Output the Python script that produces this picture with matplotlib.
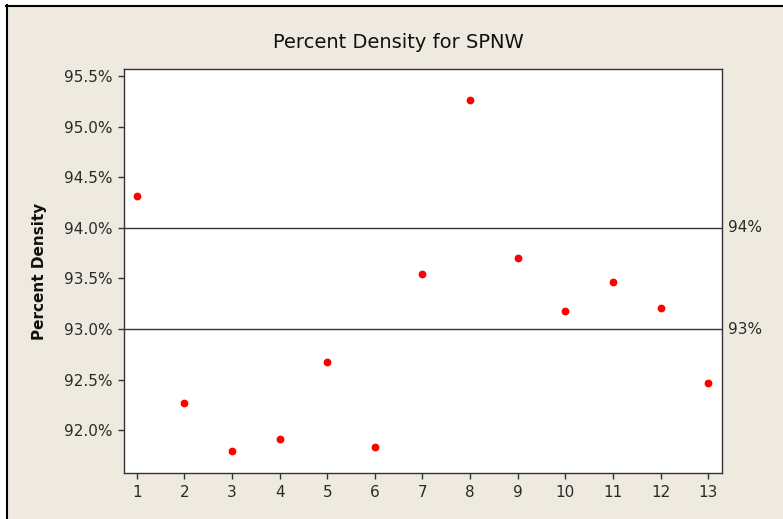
import matplotlib.pyplot as plt
from matplotlib.lines import Line2D
from matplotlib.patches import Rectangle
import matplotlib.transforms as mtransforms

obs = [1, 2, 3, 4, 5, 6, 7, 8, 9, 10, 11, 12, 13]
density = [94.31, 92.27, 91.79, 91.91, 92.67, 91.83, 93.54,
           95.26, 93.70, 93.18, 93.46, 93.21, 92.47]

ref_values = [94.0, 93.0]
ref_labels = ['94%', '93%']
ytick_vals = [92.0, 92.5, 93.0, 93.5, 94.0, 94.5, 95.0, 95.5]

bg = '#EEEAE0'
W, H = 783, 519

fig = plt.figure(figsize=(W / 100, H / 100), dpi=100, facecolor=bg)

# white margin outside the frame, then the frame lines (top and left)
fig.add_artist(Rectangle((0, 1 - 5 / H), 1, 5 / H, transform=fig.transFigure,
                         facecolor='white', edgecolor='none'))
fig.add_artist(Rectangle((0, 0), 6 / W, 1, transform=fig.transFigure,
                         facecolor='white', edgecolor='none'))
fig.add_artist(Line2D([6 / W, 1], [1 - 5.5 / H, 1 - 5.5 / H], transform=fig.transFigure,
                      color='black', lw=1.5))
fig.add_artist(Line2D([6.5 / W, 6.5 / W], [0, 1 - 5 / H], transform=fig.transFigure,
                      color='black', lw=1.5))

ax = fig.add_axes([124 / W, 1 - 472.7 / H, (722 - 124) / W, (472.7 - 69) / H])
ax.set_facecolor('white')

for v in ref_values:
    ax.axhline(v, color='#333333', lw=1.0, zorder=1)

ax.plot(obs, density, 'o', color='red', ms=4.6, zorder=3)

ax.set_xlim(0.733, 13.29)
ax.set_ylim(91.58, 95.57)
ax.set_xticks(obs)
ax.set_yticks(ytick_vals)
ax.set_yticklabels([f'{v:.1f}%' for v in ytick_vals])

for s in ax.spines.values():
    s.set_color('#333333')
    s.set_linewidth(1.0)

ax.tick_params(axis='both', direction='out', length=4, width=1, color='#333333',
               labelsize=11, labelcolor='#2a2a2a')
ax.tick_params(axis='y', pad=4)
ax.tick_params(axis='x', pad=5)

trans = mtransforms.blended_transform_factory(ax.transAxes, ax.transData)
for v, lab in zip(ref_values, ref_labels):
    ax.text(1.01, v, lab, transform=trans, ha='left', va='center',
            fontsize=11, color='#2a2a2a')

fig.text(398.5 / W, 1 - 43 / H, 'Percent Density for SPNW', ha='center', va='center',
         fontsize=14, color='#111111')
fig.text(40 / W, 1 - 271 / H, 'Percent Density', rotation=90, ha='center', va='center',
         fontsize=11, fontweight='bold', color='#111111')

fig.savefig('out.png', dpi=100, facecolor=bg)
